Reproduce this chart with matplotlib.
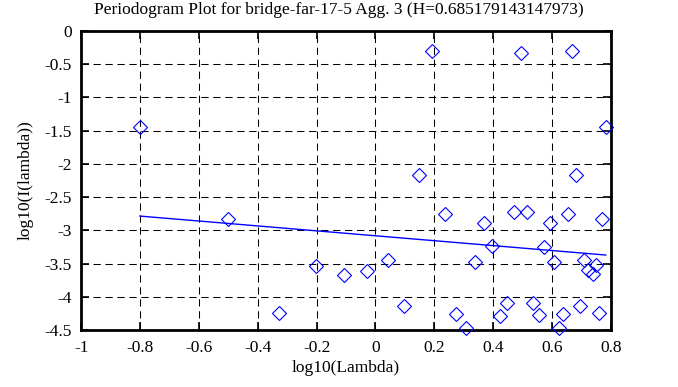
from matplotlib import pyplot as plt
import numpy as np

# periodogram points (log10 lambda, log10 I(lambda))
log_lambda = [-0.801, -0.501, -0.327, -0.202, -0.108, -0.028, 0.041, 0.096,
              0.148, 0.193, 0.235, 0.274, 0.308, 0.338, 0.370, 0.397,
              0.424, 0.448, 0.471, 0.495, 0.515, 0.535, 0.555, 0.572,
              0.592, 0.606, 0.623, 0.639, 0.655, 0.669, 0.683, 0.697,
              0.710, 0.724, 0.739, 0.751, 0.760, 0.770, 0.783]
log_power = [-1.44, -2.83, -4.25, -3.53, -3.67, -3.61, -3.45, -4.14,
             -2.16, -0.30, -2.75, -4.26, -4.47, -3.47, -2.89, -3.24,
             -4.29, -4.09, -2.73, -0.33, -2.73, -4.09, -4.28, -3.25,
             -2.89, -3.47, -4.47, -4.26, -2.75, -0.30, -2.17, -4.14,
             -3.45, -3.59, -3.66, -3.52, -4.25, -2.83, -1.44]

# least squares fit shown in the reference, slope = 1 - 2H
fit_slope = -0.370
fit_intercept = -3.082
hurst = "0.685179143147973"

x_ticks = [-1, -0.8, -0.6, -0.4, -0.2, 0, 0.2, 0.4, 0.6, 0.8]
y_ticks = [0, -0.5, -1, -1.5, -2, -2.5, -3, -3.5, -4, -4.5]

plt.rcParams['font.family'] = ['Liberation Serif', 'DejaVu Serif']

fig = plt.figure(figsize=(6.78, 3.87), dpi=100)
ax = fig.add_axes([0.1202, 0.1473, 0.7805, 0.7726])

ax.plot(log_lambda, log_power, linestyle='none', marker='D', markersize=7.3,
        markerfacecolor='none', markeredgecolor='#0000ff', markeredgewidth=0.8,
        clip_on=False, zorder=3)

fit_x = np.array([min(log_lambda), max(log_lambda)])
ax.plot(fit_x, fit_intercept + fit_slope * fit_x, color='#0000ff', linewidth=1.0)

ax.set_xlim(-1, 0.8)
ax.set_ylim(-4.5, 0)
ax.set_xticks(x_ticks)
ax.set_yticks(y_ticks)
ax.set_xticklabels([f"{t:g}" for t in x_ticks])
ax.set_yticklabels([f"{t:g}" for t in y_ticks])
ax.tick_params(direction='in', length=6, width=1.2, top=True, right=True,
               labelsize=12.5, pad=7)
ax.grid(True, color='black', linestyle=(0, (7, 4.5)), linewidth=0.75)
for spine in ax.spines.values():
    spine.set_linewidth(2)

ax.set_xlabel("log10(Lambda)", fontsize=12.5, labelpad=3)
ax.set_ylabel("log10(I(lambda))", fontsize=12.5, labelpad=8)
fig.text(0.5, 0.975, f"Periodogram Plot for bridge-far-17-5 Agg. 3 (H={hurst})",
         ha='center', va='center', fontsize=12.5)

fig.savefig("out.png", dpi=100)
